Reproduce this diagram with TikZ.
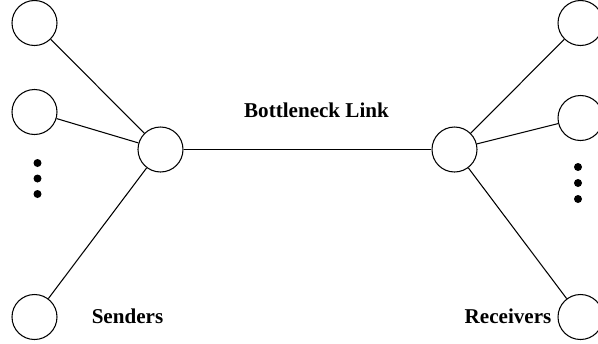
\documentclass[tikz,border=0pt]{standalone}
\usepackage{fontspec}
\setmainfont{Liberation Serif}
\usepackage{tikz}
\tikzset{nd/.append style={minimum size=0.9cm, draw,circle,inner sep=0cm,line width=0.6pt}}
\tikzset{dt/.append style={circle,fill,minimum size=0.16cm,inner sep=0cm}}
\tikzset{lb/.append style={font=\fontsize{12}{14}\selectfont\bfseries,inner sep=0cm}}
\begin{document}
\begin{tikzpicture}
                \useasboundingbox (0,0) rectangle (11.96,6.86);
                % senders
                \node[nd] (s1) at (0.69,6.40) {};
                \node[nd] (s2) at (0.69,4.62) {};
                \node[nd] (s3) at (0.69,0.52) {};
                \node[dt] (sd1) at (0.75,3.60) {};
                \node[dt] (sd2) at (0.75,3.29) {};
                \node[dt] (sd3) at (0.75,2.98) {};
                % routers
                \node[nd] (ra) at (3.21,3.87) {};
                \node[nd] (rb) at (9.09,3.87) {};
                % receivers
                \node[nd] (r1) at (11.61,6.40) {};
                \node[nd] (r2) at (11.61,4.50) {};
                \node[nd] (r3) at (11.61,0.52) {};
                \node[dt] (rd1) at (11.56,3.52) {};
                \node[dt] (rd2) at (11.56,3.20) {};
                \node[dt] (rd3) at (11.56,2.88) {};
                % labels
                \node[lb] (bl) at (6.33,4.66) {Bottleneck Link};
                \node[lb] (sn) at (2.55,0.54) {Senders};
                \node[lb] (rc) at (10.16,0.54) {Receivers};
                \path[line width=0.6pt] (ra) edge (s1) edge (s2) edge (s3) edge (rb);
                \path[line width=0.6pt] (rb) edge (r1) edge (r2) edge (r3);
            \end{tikzpicture}
\end{document}
